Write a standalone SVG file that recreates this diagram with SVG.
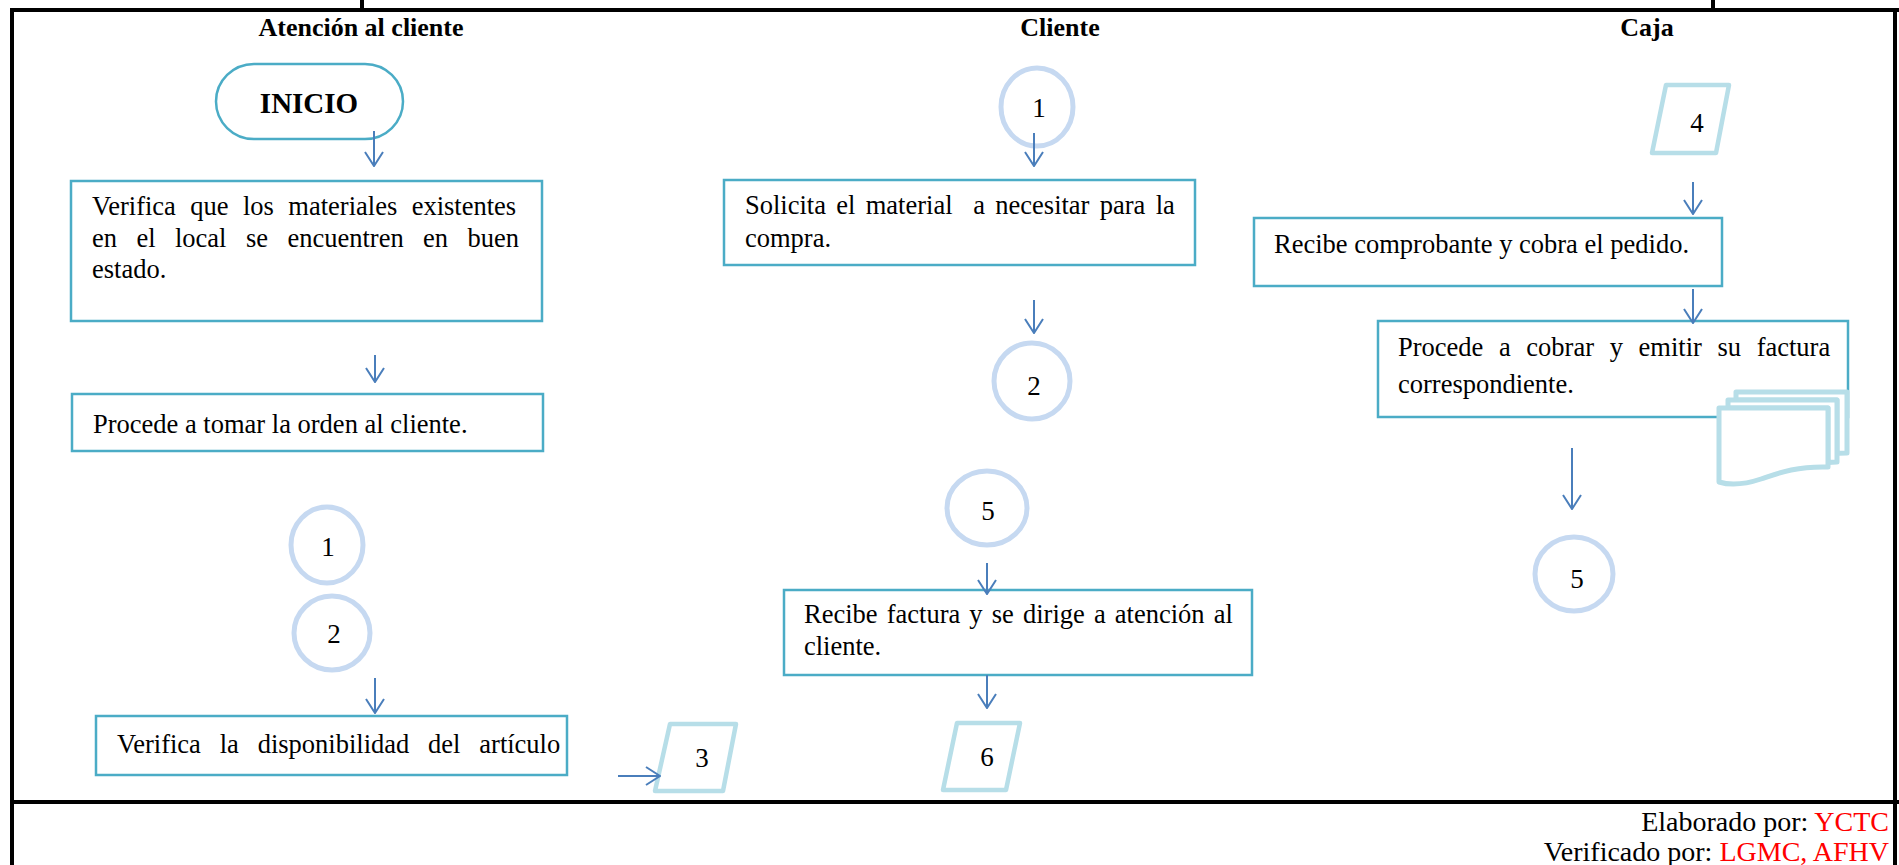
<svg xmlns="http://www.w3.org/2000/svg" width="1899" height="865" viewBox="0 0 1899 865">
<defs>
<style>
.frame{stroke:#000;stroke-width:4;fill:none}
.box{fill:#fff;stroke:#4BACC6;stroke-width:2.5}
.term{fill:#fff;stroke:#4BACC6;stroke-width:2.5}
.circ{fill:#fff;stroke:#C6D9F1;stroke-width:5}
.para{fill:#fff;stroke:#B7DEE8;stroke-width:4.5;stroke-linejoin:round}
.doc{fill:#fff;stroke:#B7DEE8;stroke-width:5;stroke-linejoin:round}
.t{font-family:"Liberation Serif","Times New Roman",serif;font-size:26.5px;fill:#000}
.h{font-family:"Liberation Serif","Times New Roman",serif;font-size:26px;font-weight:bold;fill:#000;text-anchor:middle}
.n{font-family:"Liberation Serif","Times New Roman",serif;font-size:27px;fill:#000;text-anchor:middle}
.f{font-family:"Liberation Serif","Times New Roman",serif;font-size:28px;fill:#000;text-anchor:end}
.red{fill:#FF0000}
.arr{stroke:#4A7EBB;stroke-width:2;fill:none;marker-end:url(#open)}
</style>
<marker id="open" viewBox="0 0 16 20" refX="15" refY="10" markerWidth="16" markerHeight="20" markerUnits="userSpaceOnUse" orient="auto">
<path d="M1,1 L15,10 L1,19" fill="none" stroke="#4A7EBB" stroke-width="2"/>
</marker>
</defs>
<rect width="1899" height="865" fill="#fff"/>
<g id="frame">
<line class="frame" x1="10" y1="10" x2="1899" y2="10"/>
<line class="frame" x1="12" y1="8" x2="12" y2="865"/>
<line class="frame" x1="1895" y1="8" x2="1895" y2="865"/>
<line class="frame" x1="10" y1="802" x2="1899" y2="802"/>
<line class="frame" x1="362" y1="0" x2="362" y2="10"/>
<line class="frame" x1="1713" y1="0" x2="1713" y2="10"/>
</g>
<g id="headers">
<text class="h" x="361" y="36">Atención al cliente</text>
<text class="h" x="1060" y="36">Cliente</text>
<text class="h" x="1647" y="36">Caja</text>
</g>
<g id="inicio">
<rect class="term" x="216" y="64" width="187" height="75" rx="38" ry="38"/>
<text x="309" y="113" font-family="Liberation Serif, serif" font-size="29" font-weight="bold" text-anchor="middle">INICIO</text>
</g>
<g id="a1">
<rect class="box" x="71" y="181" width="471" height="140"/>
<text class="t" x="92" y="215" style="word-spacing:7.8px">Verifica que los materiales existentes</text>
<text class="t" x="92" y="247" style="word-spacing:12.8px">en el local se encuentren en buen</text>
<text class="t" x="92" y="278">estado.</text>
</g>
<g id="a2">
<rect class="box" x="72" y="394" width="471" height="57"/>
<text class="t" x="93" y="433">Procede a tomar la orden al cliente.</text>
</g>
<g id="c1a">
<ellipse class="circ" cx="327" cy="545" rx="36" ry="38"/>
<text class="n" x="328" y="556">1</text>
</g>
<g id="c2a">
<ellipse class="circ" cx="332" cy="633" rx="38" ry="37"/>
<text class="n" x="334" y="643">2</text>
</g>
<g id="a3">
<rect class="box" x="96" y="716" width="471" height="59"/>
<text class="t" x="117" y="753" style="word-spacing:12.2px">Verifica la disponibilidad del artículo</text>
</g>
<g id="p3">
<polygon class="para" points="670,724 736,724 723,791 655,791"/>
<text class="n" x="702" y="767" font-size="28">3</text>
</g>
<g id="c1b">
<ellipse class="circ" cx="1037" cy="107" rx="36" ry="39"/>
<text class="n" x="1039" y="117">1</text>
</g>
<g id="b1">
<rect class="box" x="724" y="180" width="471" height="85"/>
<text class="t" x="745" y="214" xml:space="preserve" style="white-space:pre;word-spacing:3.7px">Solicita el material  a necesitar para la</text>
<text class="t" x="745" y="247">compra.</text>
</g>
<g id="c2b">
<ellipse class="circ" cx="1032" cy="381" rx="38" ry="38"/>
<text class="n" x="1034" y="395">2</text>
</g>
<g id="c5b">
<ellipse class="circ" cx="987" cy="508" rx="40" ry="37"/>
<text class="n" x="988" y="520">5</text>
</g>
<g id="b2">
<rect class="box" x="784" y="590" width="468" height="85"/>
<text class="t" x="804" y="623" style="word-spacing:2.5px">Recibe factura y se dirige a atención al</text>
<text class="t" x="804" y="655">cliente.</text>
</g>
<g id="p6">
<polygon class="para" points="957,723 1020,723 1006,790 943,790"/>
<text class="n" x="987" y="766" font-size="28">6</text>
</g>
<g id="p4">
<polygon class="para" points="1666,85 1729,85 1716,153 1652,153"/>
<text class="n" x="1697" y="132" font-size="28">4</text>
</g>
<g id="k1">
<rect class="box" x="1254" y="218" width="468" height="68"/>
<text class="t" x="1274" y="253">Recibe comprobante y cobra el pedido.</text>
</g>
<g id="k2">
<rect class="box" x="1378" y="321" width="470" height="96"/>
<text class="t" x="1398" y="356" style="word-spacing:9px">Procede a cobrar y emitir su factura</text>
<text class="t" x="1398" y="393">correspondiente.</text>
</g>
<g id="doc">
<path class="doc" d="M1736,392 H1847 V453 C1843,453 1840,453 1837,453.5 V400 H1736 Z"/>
<path class="doc" d="M1728,400 H1837 V462 C1834,462 1831,462 1828,462.5 V408 H1728 Z"/>
<path class="doc" d="M1719,408 H1828 V467 C1795,466 1776,474 1761,479 C1746,484 1732,486 1719,482 Z"/>
</g>
<g id="c5c">
<ellipse class="circ" cx="1574" cy="574" rx="39" ry="37"/>
<text class="n" x="1577" y="588">5</text>
</g>
<g id="connectors">
<line class="arr" x1="374" y1="131" x2="374" y2="166"/>
<line class="arr" x1="375" y1="355" x2="375" y2="382"/>
<line class="arr" x1="375" y1="678" x2="375" y2="713"/>
<line class="arr" x1="618" y1="776" x2="660" y2="776"/>
<line class="arr" x1="1034" y1="133" x2="1034" y2="166"/>
<line class="arr" x1="1034" y1="300" x2="1034" y2="333"/>
<line class="arr" x1="987" y1="563" x2="987" y2="594"/>
<line class="arr" x1="987" y1="675" x2="987" y2="708"/>
<line class="arr" x1="1693" y1="182" x2="1693" y2="214"/>
<line class="arr" x1="1693" y1="289" x2="1693" y2="323"/>
<line class="arr" x1="1572" y1="448" x2="1572" y2="509"/>
</g>
<g id="footer">
<text class="f" x="1889" y="831">Elaborado por: <tspan class="red">YCTC</tspan></text>
<text class="f" x="1889" y="861">Verificado por: <tspan class="red">LGMC, AFHV</tspan></text>
</g>
</svg>
